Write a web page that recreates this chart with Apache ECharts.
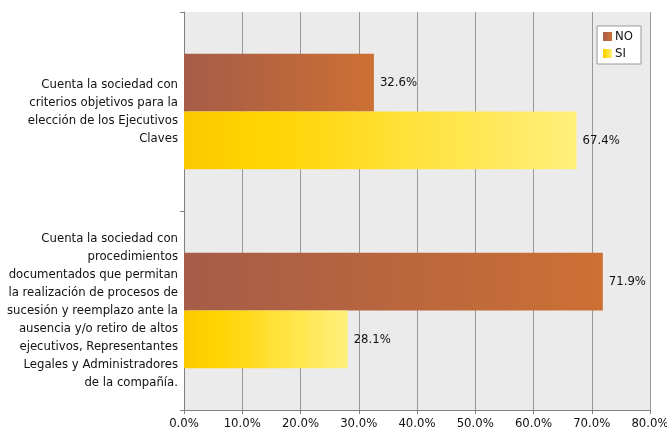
<!DOCTYPE html>
<html><head><meta charset="utf-8">
<script src="https://cdn.jsdelivr.net/npm/echarts@6/dist/echarts.min.js"></script>
<style>html,body{margin:0;padding:0;background:#fff}#c{width:667px;height:431px}</style>
</head><body><div id="c"></div>
<script>
var categories = [
  "Cuenta la sociedad con\ncriterios objetivos para la\nelección de los Ejecutivos\nClaves",
  "Cuenta la sociedad con\nprocedimientos\ndocumentados que permitan\nla realización de procesos de\nsucesión y reemplazo ante la\nausencia y/o retiro de altos\nejecutivos, Representantes\nLegales y Administradores\nde la compañía."
];
var seriesNames = ["NO", "SI"];
var noValues = [32.6, 71.9];
var siValues = [67.4, 28.1];
var xTicks = [0, 10, 20, 30, 40, 50, 60, 70, 80];

var FONT = "'DejaVu Sans Condensed', 'DejaVu Sans', sans-serif";
var FS = 13;
var chart = echarts.init(document.getElementById('c'));
var noColor = new echarts.graphic.LinearGradient(0, 0, 1, 0, [
  {offset: 0, color: '#a65c48'}, {offset: 1, color: '#cc7034'}]);
var siColor = new echarts.graphic.LinearGradient(0, 0, 1, 0, [
  {offset: 0, color: '#fcc800'}, {offset: 0.2, color: '#ffd400'}, {offset: 1, color: '#fff07c'}]);
var labelCfg = {show: true, position: 'right', distance: 6, color: '#111', fontFamily: FONT, fontSize: FS,
  formatter: function(p){ return p.value.toFixed(1) + '%'; }};
chart.setOption({
  animation: false,
  backgroundColor: '#ffffff',
  grid: {left: 184, right: 17, top: 12, bottom: 21, containLabel: false, outerBoundsMode: 'none',
         show: true, backgroundColor: '#ebebeb', borderWidth: 0},
  legend: {
    data: seriesNames, orient: 'vertical', right: 26, top: 26,
    backgroundColor: '#ffffff', borderColor: '#999', borderWidth: 1,
    padding: [4, 8, 4, 6], itemGap: 4, itemWidth: 9, itemHeight: 9, icon: 'rect',
    textStyle: {fontFamily: FONT, fontSize: FS, color: '#111', padding: [0, 0, 0, -2]}
  },
  xAxis: {
    type: 'value', min: xTicks[0], max: xTicks[xTicks.length - 1], interval: 10,
    axisLine: {show: true, lineStyle: {color: '#808080'}},
    axisTick: {show: true, length: 4, lineStyle: {color: '#808080'}},
    axisLabel: {fontFamily: FONT, fontSize: FS, color: '#111', margin: 7,
      formatter: function(v){ return v.toFixed(1) + '%'; }},
    splitLine: {show: true, lineStyle: {color: '#999', width: 1}}
  },
  yAxis: {
    type: 'category', data: categories, inverse: true,
    axisLine: {show: true, onZero: false, lineStyle: {color: '#808080'}},
    axisTick: {show: true, length: 4, lineStyle: {color: '#808080'}},
    axisLabel: {fontFamily: FONT, fontSize: FS, color: '#111', margin: 6, lineHeight: 18, align: 'right'}
  },
  series: [
    {name: seriesNames[0], type: 'bar', data: noValues, barGap: '0%', barCategoryGap: '42%',
     itemStyle: {color: noColor}, label: labelCfg},
    {name: seriesNames[1], type: 'bar', data: siValues, barGap: '0%', barCategoryGap: '42%',
     itemStyle: {color: siColor}, label: labelCfg}
  ]
});
</script></body></html>
